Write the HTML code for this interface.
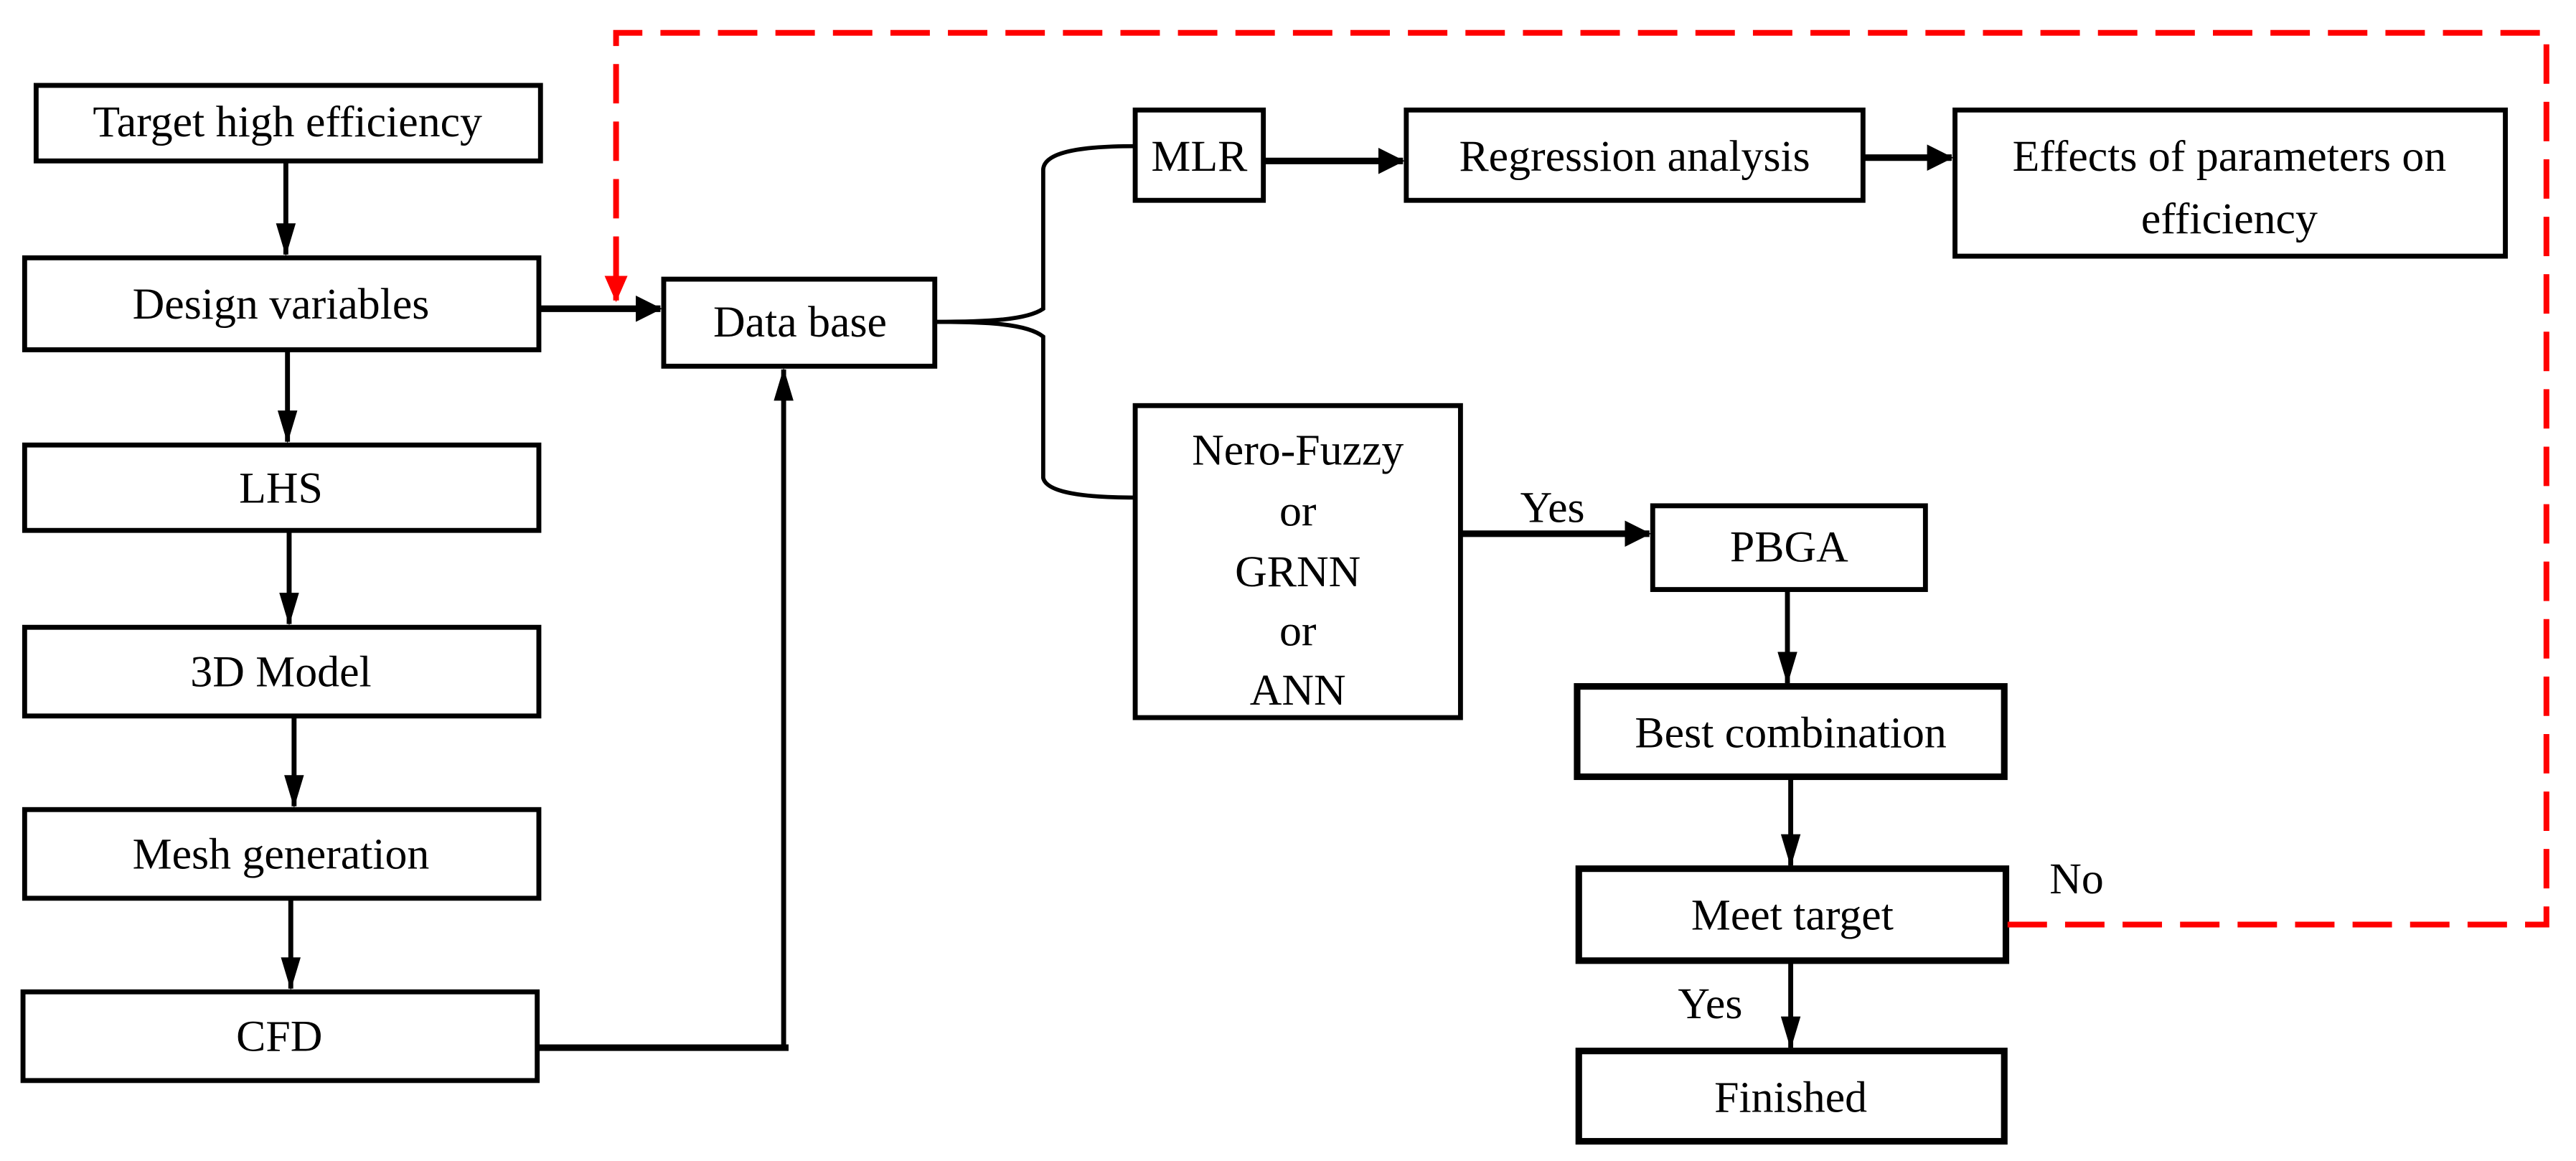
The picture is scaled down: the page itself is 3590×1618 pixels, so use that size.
<!DOCTYPE html>
<html><head><meta charset="utf-8"><style>
html,body{margin:0;padding:0;background:#fff}
svg{display:block}
text{font-family:"Liberation Serif",serif;font-size:27px;fill:#000;text-anchor:middle}
</style></head><body>
<svg width="3590" height="1618" viewBox="0 0 1568 707" preserveAspectRatio="none" xmlns="http://www.w3.org/2000/svg">
<defs>
<marker id="a" markerWidth="20" markerHeight="12" refX="19" refY="6" orient="auto" markerUnits="userSpaceOnUse"><path d="M0,0 L20,6 L0,12 z" fill="#000"/></marker>
<marker id="b" markerWidth="16" markerHeight="16" refX="15" refY="8" orient="auto" markerUnits="userSpaceOnUse"><path d="M0,0 L16,8 L0,16 z" fill="#000"/></marker>
<marker id="r" markerWidth="16" markerHeight="14" refX="15" refY="7" orient="auto" markerUnits="userSpaceOnUse"><path d="M0,0 L16,7 L0,14 z" fill="#f00"/></marker>
</defs>
<g fill="#fff" stroke="#000" stroke-width="3">
<rect x="22" y="52" width="307" height="46"/>
<rect x="15" y="157" width="313" height="56"/>
<rect x="15" y="271" width="313" height="52"/>
<rect x="15" y="382" width="313" height="54"/>
<rect x="15" y="493" width="313" height="54"/>
<rect x="14" y="604" width="313" height="54"/>
<rect x="404" y="170" width="165" height="53"/>
<rect x="691" y="67" width="78" height="55"/>
<rect x="856" y="67" width="278" height="55"/>
<rect x="1190" y="67" width="335" height="89"/>
<rect x="691" y="247" width="198" height="190"/>
<rect x="1006" y="308" width="166" height="51"/>
</g>
<g fill="#fff" stroke="#000" stroke-width="4">
<rect x="960" y="418" width="260" height="55"/>
<rect x="961" y="529" width="260" height="56"/>
<rect x="961" y="640" width="259" height="55"/>
</g>
<g stroke="#000" stroke-width="3" fill="none">
<line x1="174" y1="99" x2="174" y2="155" marker-end="url(#a)"/>
<line x1="175" y1="214" x2="175" y2="269" marker-end="url(#a)"/>
<line x1="176" y1="324" x2="176" y2="380" marker-end="url(#a)"/>
<line x1="179" y1="437" x2="179" y2="491" marker-end="url(#a)"/>
<line x1="177" y1="548" x2="177" y2="602" marker-end="url(#a)"/>
<line x1="1088" y1="360" x2="1088" y2="416" marker-end="url(#a)"/>
<line x1="1090" y1="474" x2="1090" y2="527" marker-end="url(#a)"/>
<line x1="1090" y1="586" x2="1090" y2="638" marker-end="url(#a)"/>
<line x1="477" y1="638" x2="477" y2="225" marker-end="url(#a)"/>
<path d="M569,196 C600,196 625,195 635,188 L635,103 C636,92 660,89 691,89" stroke-width="2.5"/>
<path d="M569,196 C600,196 625,197 635,205 L635,291 C637,300 660,303 691,303" stroke-width="2.5"/>
</g>
<g stroke="#000" stroke-width="4" fill="none">
<line x1="328" y1="638" x2="480" y2="638"/>
<line x1="329" y1="188" x2="402" y2="188" marker-end="url(#b)"/>
<line x1="769" y1="98" x2="854" y2="98" marker-end="url(#b)"/>
<line x1="1134" y1="96" x2="1188" y2="96" marker-end="url(#b)"/>
<line x1="889" y1="325" x2="1004" y2="325" marker-end="url(#b)"/>
</g>
<g stroke="#f00" stroke-width="3.5" fill="none" stroke-dasharray="24,11">
<path d="M1222,563 L1550,563 L1550,20 L375,20 L375,183" marker-end="url(#r)"/>
</g>
<text x="175" y="83">Target high efficiency</text>
<text x="171" y="194">Design variables</text>
<text x="171" y="306">LHS</text>
<text x="171" y="418">3D Model</text>
<text x="171" y="529">Mesh generation</text>
<text x="170" y="640">CFD</text>
<text x="487" y="205">Data base</text>
<text x="730" y="104">MLR</text>
<text x="995" y="104">Regression analysis</text>
<text x="1357" y="104">Effects of parameters on</text>
<text x="1357" y="142">efficiency</text>
<text x="790" y="283">Nero-Fuzzy</text>
<text x="790" y="320">or</text>
<text x="790" y="357">GRNN</text>
<text x="790" y="393">or</text>
<text x="790" y="429">ANN</text>
<text x="1089" y="342">PBGA</text>
<text x="1090" y="455">Best combination</text>
<text x="1091" y="566">Meet target</text>
<text x="1090" y="677">Finished</text>
<text x="945" y="318">Yes</text>
<text x="1264" y="544">No</text>
<text x="1041" y="620">Yes</text>
</svg>
</body></html>
